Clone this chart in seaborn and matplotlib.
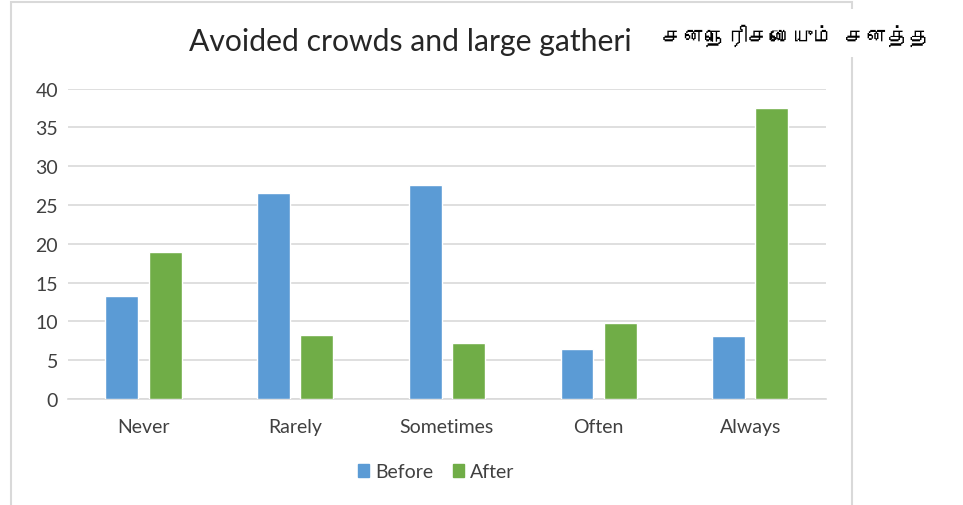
import pandas as pd
import matplotlib.pyplot as plt
import matplotlib.patches as mpatches
from matplotlib import font_manager
from matplotlib.ft2font import FT2Font
import seaborn as sns

# data
categories = ['Never', 'Rarely', 'Sometimes', 'Often', 'Always']
before = [13.3, 26.6, 27.6, 6.5, 8.1]
after = [19.0, 8.2, 7.2, 9.8, 37.5]
title_text = 'Avoided crowds and large gatheri'
tamil_text = 'சனநெரிசலையும் சனத்த'

df = pd.DataFrame({
    'category': categories * 2,
    'value': before + after,
    'period': ['Before'] * 5 + ['After'] * 5,
})

sns.set_theme(style='white')
plt.rcParams['font.family'] = ['Lato', 'DejaVu Sans']

# look for any installed font that covers Tamil
tamil_font = None
for f in font_manager.fontManager.ttflist:
    try:
        if 0x0B9A in FT2Font(f.fname).get_charmap():
            tamil_font = f.name
            break
    except Exception:
        pass
tamil_family = [tamil_font, 'DejaVu Sans'] if tamil_font else ['DejaVu Sans']

fig = plt.figure(figsize=(9.63, 5.06), dpi=100)
ax = fig.add_axes([0.0703, 0.2095, 0.7875, 0.6132])

palette = {'Before': '#5B9BD5', 'After': '#70AD47'}
sns.barplot(data=df, x='category', y='value', hue='period', palette=palette,
            width=0.57, gap=0.24, saturation=1, ax=ax, legend=False, zorder=3)

ax.set_ylim(0, 40)
ax.set_yticks(range(0, 41, 5))
ax.set_xlim(-0.5, 4.5)
ax.grid(axis='y', color='#d9d9d9', linewidth=1.2, zorder=0)
for s in ['left', 'right', 'top']:
    ax.spines[s].set_visible(False)
ax.spines['bottom'].set_color('#d9d9d9')
ax.spines['bottom'].set_linewidth(1.2)
ax.tick_params(axis='y', length=0, labelsize=14, labelcolor='#404040', pad=7)
ax.tick_params(axis='x', length=0, labelsize=14, labelcolor='#404040', pad=14)
ax.set_xlabel('')
ax.set_ylabel('')

# chart area border
fig.patches.append(mpatches.Rectangle((11 / 963, -0.01), 841 / 963, 1 - 3 / 506 + 0.01,
                                      transform=fig.transFigure, fill=False,
                                      edgecolor='#d9d9d9', linewidth=1.5))
fig.text(189 / 963, 1 - 42 / 506, title_text, fontsize=21.7, color='#262626', va='center')

# white box with tamil text on top right
fig.patches.append(mpatches.Rectangle((638 / 963, 1 - 58 / 506), 325 / 963, 48 / 506,
                                      transform=fig.transFigure, facecolor='white',
                                      edgecolor='none', zorder=5))
fig.text(662 / 963, 1 - 36 / 506, tamil_text, fontsize=15.5, color='black', va='center',
         family=tamil_family, zorder=6)

handles = [mpatches.Patch(color=palette[k], label=k) for k in ['Before', 'After']]
fig.legend(handles=handles, loc='center', bbox_to_anchor=(436 / 963, 1 - 473 / 506),
           ncol=2, frameon=False, fontsize=14, handlelength=0.6, handleheight=0.6,
           handletextpad=0.3, columnspacing=1.0, labelcolor='#404040')

fig.savefig('out.png', dpi=100)
